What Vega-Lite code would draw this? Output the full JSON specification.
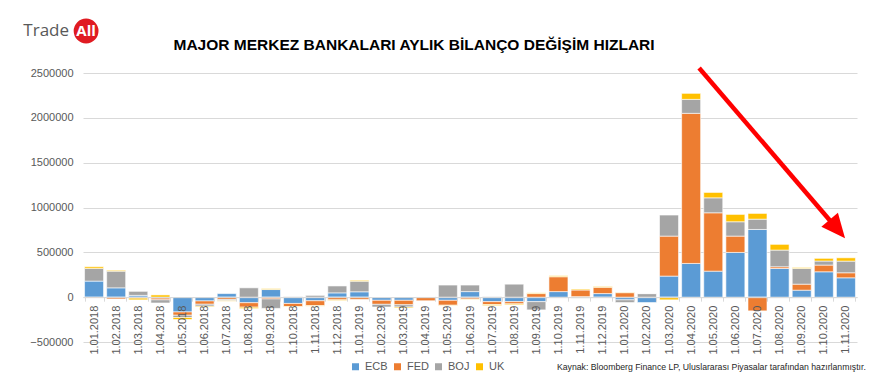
{
  "$schema": "https://vega.github.io/schema/vega-lite/v6.json",
  "width": 774,
  "height": 269,
  "autosize": {"type": "none"},
  "padding": {"left": 83, "top": 73, "right": 15, "bottom": 45},
  "background": "white",
  "config": {
    "view": {"stroke": null},
    "font": "Liberation Sans",
    "axisY": {
      "labelColor": "#595959",
      "labelFontSize": 11,
      "labelFont": "Liberation Sans",
      "domain": false,
      "ticks": false,
      "tickSize": 0,
      "labelPadding": 10,
      "gridColor": "#d9d9d9",
      "gridWidth": 1,
      "title": null
    }
  },
  "layer": [
    {
      "data": {
        "values": [
          {"d": "1.01.2018", "ECB": 179000, "FED": -10000, "BOJ": 142000, "UK": 18000},
          {"d": "1.02.2018", "ECB": 104000, "FED": -20000, "BOJ": 186000, "UK": 10000},
          {"d": "1.03.2018", "ECB": 20000, "FED": -10000, "BOJ": 45000, "UK": -20000},
          {"d": "1.04.2018", "ECB": -10000, "FED": -20000, "BOJ": -35000, "UK": 25000},
          {"d": "1.05.2018", "ECB": -165000, "FED": -37000, "BOJ": -25000, "UK": -22000},
          {"d": "1.06.2018", "ECB": -42000, "FED": -37000, "BOJ": -22000, "UK": -8000},
          {"d": "1.07.2018", "ECB": 40000, "FED": -25000, "BOJ": -15000, "UK": -5000},
          {"d": "1.08.2018", "ECB": -62000, "FED": -50000, "BOJ": 104000, "UK": -15000},
          {"d": "1.09.2018", "ECB": 85000, "FED": -20000, "BOJ": -105000, "UK": 10000},
          {"d": "1.10.2018", "ECB": -70000, "FED": -35000, "BOJ": 5000, "UK": -5000},
          {"d": "1.11.2018", "ECB": -40000, "FED": -55000, "BOJ": 20000, "UK": -5000},
          {"d": "1.12.2018", "ECB": 48000, "FED": -30000, "BOJ": 77000, "UK": -8000},
          {"d": "1.01.2019", "ECB": 60000, "FED": -25000, "BOJ": 118000, "UK": 10000},
          {"d": "1.02.2019", "ECB": -35000, "FED": -45000, "BOJ": -30000, "UK": 0},
          {"d": "1.03.2019", "ECB": -35000, "FED": -50000, "BOJ": -25000, "UK": -10000},
          {"d": "1.04.2019", "ECB": 5000, "FED": -40000, "BOJ": 0, "UK": 0},
          {"d": "1.05.2019", "ECB": -35000, "FED": -55000, "BOJ": 135000, "UK": -5000},
          {"d": "1.06.2019", "ECB": 62000, "FED": -22000, "BOJ": 73000, "UK": -5000},
          {"d": "1.07.2019", "ECB": -50000, "FED": -32000, "BOJ": 5000, "UK": -12000},
          {"d": "1.08.2019", "ECB": -50000, "FED": -25000, "BOJ": 145000, "UK": -10000},
          {"d": "1.09.2019", "ECB": -50000, "FED": 40000, "BOJ": -92000, "UK": 8000},
          {"d": "1.10.2019", "ECB": 62000, "FED": 167000, "BOJ": 0, "UK": 10000},
          {"d": "1.11.2019", "ECB": 5000, "FED": 75000, "BOJ": -10000, "UK": 10000},
          {"d": "1.12.2019", "ECB": 40000, "FED": 70000, "BOJ": -10000, "UK": 8000},
          {"d": "1.01.2020", "ECB": -30000, "FED": 50000, "BOJ": -30000, "UK": 5000},
          {"d": "1.02.2020", "ECB": -60000, "FED": 0, "BOJ": 40000, "UK": 0},
          {"d": "1.03.2020", "ECB": 235000, "FED": 446000, "BOJ": 235000, "UK": -30000},
          {"d": "1.04.2020", "ECB": 376000, "FED": 1674000, "BOJ": 156000, "UK": 67000},
          {"d": "1.05.2020", "ECB": 290000, "FED": 651000, "BOJ": 167000, "UK": 60000},
          {"d": "1.06.2020", "ECB": 499000, "FED": 182000, "BOJ": 160000, "UK": 82000},
          {"d": "1.07.2020", "ECB": 755000, "FED": -153000, "BOJ": 115000, "UK": 64000},
          {"d": "1.08.2020", "ECB": 320000, "FED": 19000, "BOJ": 186000, "UK": 64000},
          {"d": "1.09.2020", "ECB": 78000, "FED": 67000, "BOJ": 175000, "UK": 11000},
          {"d": "1.10.2020", "ECB": 283000, "FED": 75000, "BOJ": 45000, "UK": 30000},
          {"d": "1.11.2020", "ECB": 216000, "FED": 56000, "BOJ": 130000, "UK": 37000}
        ]
      },
      "transform": [
        {"fold": ["ECB", "FED", "BOJ", "UK"], "as": ["key", "value"]},
        {"window": [{"op": "row_number", "as": "rank"}], "groupby": ["d"]}
      ],
      "mark": {"type": "bar", "stroke": "white", "strokeWidth": 0.6},
      "encoding": {
        "x": {
          "field": "d",
          "type": "ordinal",
          "sort": null,
          "scale": {"paddingInner": 0.14, "paddingOuter": 0.07},
          "axis": {
            "title": null,
            "labelAngle": -90,
            "labelColor": "#595959",
            "labelFontSize": 11,
            "labelFont": "Liberation Sans",
            "labelPadding": 4,
            "domainColor": "#d9d9d9",
            "tickColor": "#d9d9d9",
            "tickSize": 4,
            "tickBand": "extent",
            "grid": false,
            "zindex": 1,
            "offset": -44.83
          }
        },
        "y": {
          "field": "value",
          "type": "quantitative",
          "title": null,
          "scale": {"domain": [-500000, 2500000], "nice": false},
          "axis": {
            "values": [-500000, 0, 500000, 1000000, 1500000, 2000000, 2500000],
            "format": "d",
            "zindex": 0
          }
        },
        "order": {"field": "rank", "type": "quantitative", "sort": "ascending"},
        "color": {
          "field": "key",
          "type": "nominal",
          "sort": ["ECB", "FED", "BOJ", "UK"],
          "scale": {"domain": ["ECB", "FED", "BOJ", "UK"], "range": ["#5B9BD5", "#ED7D31", "#A5A5A5", "#FFC000"]},
          "legend": {
            "title": null,
            "orient": "none",
            "direction": "horizontal",
            "legendX": 267,
            "legendY": 288,
            "symbolType": "square",
            "symbolSize": 49,
            "symbolStrokeWidth": 0,
            "labelColor": "#595959",
            "labelFontSize": 11,
            "labelFont": "Liberation Sans",
            "labelOffset": 4,
            "columnPadding": 4
          }
        }
      }
    },
    {
      "data": {"values": [{"x": 14.97, "y": 2762000, "t": "MAJOR MERKEZ BANKALARI AYLIK BİLANÇO DEĞİŞİM HIZLARI"}]},
      "mark": {"type": "text", "align": "center", "baseline": "alphabetic", "fontSize": 15.5, "font": "Liberation Sans Narrow, Liberation Sans", "fontWeight": "bold", "color": "#000000"},
      "encoding": {
        "x": {"field": "x", "type": "quantitative", "scale": {"domain": [0, 35], "nice": false, "zero": false}, "axis": null},
        "y": {"field": "y", "type": "quantitative", "title": null, "scale": {"domain": [-500000, 2500000], "nice": false}},
        "text": {"field": "t"}
      }
    },
    {
      "data": {"values": [{"x": 27.86, "y": 2556000, "x2": 34.0, "y2": 790000}]},
      "mark": {"type": "rule", "color": "#FF0000", "strokeWidth": 4.5},
      "encoding": {
        "x": {"field": "x", "type": "quantitative", "scale": {"domain": [0, 35], "nice": false, "zero": false}, "axis": null},
        "x2": {"field": "x2"},
        "y": {"field": "y", "type": "quantitative", "title": null, "scale": {"domain": [-500000, 2500000], "nice": false}},
        "y2": {"field": "y2"}
      }
    },
    {
      "data": {"values": [{"x": 34.46, "y": 658000}]},
      "mark": {"type": "point", "shape": "M0,0 L0.45,1 L-0.45,1 Z", "filled": true, "color": "#FF0000", "opacity": 1, "angle": 140, "size": 2304},
      "encoding": {
        "x": {"field": "x", "type": "quantitative", "scale": {"domain": [0, 35], "nice": false, "zero": false}, "axis": null},
        "y": {"field": "y", "type": "quantitative", "title": null, "scale": {"domain": [-500000, 2500000], "nice": false}}
      }
    },
    {
      "data": {"values": [{"x": -0.63, "y": 2968000, "t": "Trade"}]},
      "mark": {"type": "text", "align": "right", "baseline": "middle", "fontSize": 17, "font": "Open Sans", "color": "#595959"},
      "encoding": {
        "x": {"field": "x", "type": "quantitative", "scale": {"domain": [0, 35], "nice": false, "zero": false}, "axis": null},
        "y": {"field": "y", "type": "quantitative", "title": null, "scale": {"domain": [-500000, 2500000], "nice": false}},
        "text": {"field": "t"}
      }
    },
    {
      "data": {"values": [{"x": 0.14, "y": 2968000}]},
      "mark": {"type": "circle", "color": "#E01B22", "opacity": 1, "size": 616},
      "encoding": {
        "x": {"field": "x", "type": "quantitative", "scale": {"domain": [0, 35], "nice": false, "zero": false}, "axis": null},
        "y": {"field": "y", "type": "quantitative", "title": null, "scale": {"domain": [-500000, 2500000], "nice": false}}
      }
    },
    {
      "data": {"values": [{"x": 0.14, "y": 2968000, "t": "All"}]},
      "mark": {"type": "text", "align": "center", "baseline": "middle", "fontSize": 15, "font": "Open Sans", "fontWeight": "bold", "color": "white"},
      "encoding": {
        "x": {"field": "x", "type": "quantitative", "scale": {"domain": [0, 35], "nice": false, "zero": false}, "axis": null},
        "y": {"field": "y", "type": "quantitative", "title": null, "scale": {"domain": [-500000, 2500000], "nice": false}},
        "text": {"field": "t"}
      }
    },
    {
      "data": {"values": [{"x": 35.4, "y": -778000, "t": "Kaynak: Bloomberg Finance LP, Uluslararası Piyasalar tarafından hazırlanmıştır."}]},
      "mark": {"type": "text", "align": "right", "baseline": "middle", "fontSize": 8.7, "font": "Liberation Sans", "color": "#262626"},
      "encoding": {
        "x": {"field": "x", "type": "quantitative", "scale": {"domain": [0, 35], "nice": false, "zero": false}, "axis": null},
        "y": {"field": "y", "type": "quantitative", "title": null, "scale": {"domain": [-500000, 2500000], "nice": false}},
        "text": {"field": "t"}
      }
    }
  ],
  "resolve": {"scale": {"x": "independent"}}
}
